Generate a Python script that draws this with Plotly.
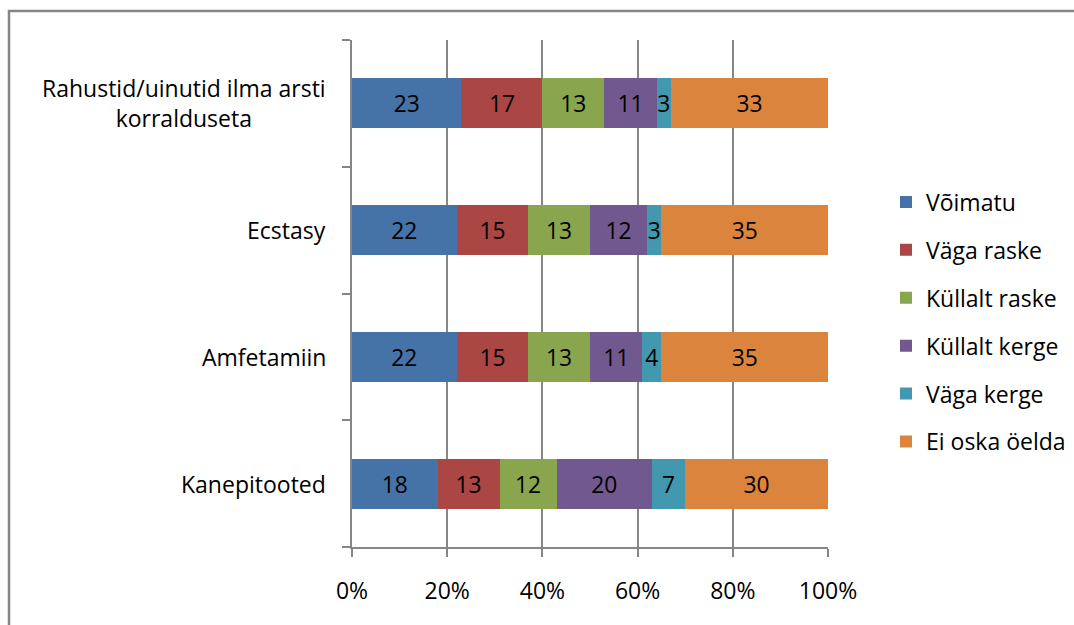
import plotly.graph_objects as go

categories = ["Kanepitooted", "Amfetamiin", "Ecstasy",
              "Rahustid/uinutid ilma arsti<br>korralduseta"]
series_names = ["Võimatu", "Väga raske", "Küllalt raske",
                "Küllalt kerge", "Väga kerge", "Ei oska öelda"]
voimatu = [18, 22, 22, 23]
vaga_raske = [13, 15, 15, 17]
kullalt_raske = [12, 13, 13, 13]
kullalt_kerge = [20, 11, 12, 11]
vaga_kerge = [7, 4, 3, 3]
ei_oska = [30, 35, 35, 33]
x_ticks = [0, 20, 40, 60, 80, 100]

series_values = [voimatu, vaga_raske, kullalt_raske, kullalt_kerge, vaga_kerge, ei_oska]
colors = ["#4572A7", "#AA4643", "#89A54E", "#71588F", "#4198AF", "#DB843D"]

FONT = "Open Sans"
FS = 23
GRAY = "#868686"
W, H = 1074, 625
L, R, T, B = 352, 246, 40, 78
pw, ph = W - L - R, H - T - B

fig = go.Figure()
ypos = list(range(len(categories)))
for name, vals, col in zip(series_names, series_values, colors):
    fig.add_trace(go.Bar(
        y=ypos, x=vals, name=name, orientation="h",
        marker=dict(color=col, line=dict(width=0)),
        width=0.395,
        text=[str(v) for v in vals], textposition="inside",
        insidetextanchor="middle", textangle=0,
        textfont=dict(family=FONT, size=FS, color="black"),
        legendgroup=name,
    ))

for i, c in enumerate(categories):
    fig.add_annotation(x=0, xref="paper", y=i, yref="y", text=c,
                       xanchor="right", xshift=-24, align="center",
                       showarrow=False,
                       font=dict(family=FONT, size=FS, color="black"))

# outer chart border
fig.add_shape(type="rect", xref="paper", yref="paper",
              x0=(9 - L) / pw, x1=(W + 10 - L) / pw,
              y0=(H - B - (H + 10)) / ph, y1=1 + (T - 11) / ph,
              line=dict(color=GRAY, width=2.5), fillcolor="rgba(0,0,0,0)", layer="below")

fig.update_layout(
    width=W, height=H,
    margin=dict(l=L, r=R, t=T, b=B, autoexpand=False),
    barmode="stack", barnorm="percent",
    plot_bgcolor="white", paper_bgcolor="white",
    font=dict(family=FONT, size=FS, color="black"),
    uniformtext=dict(minsize=FS - 2, mode="show"),
    showlegend=True,
    legend=dict(x=(886 - L) / pw, xanchor="left", y=(H - B - 322) / ph, yanchor="middle",
                traceorder="grouped", tracegroupgap=15,
                font=dict(family=FONT, size=FS, color="black"),
                bgcolor="rgba(0,0,0,0)", itemwidth=30),
    xaxis=dict(range=[0, 100], tickvals=x_ticks, ticktext=[f"{v}%" for v in x_ticks],
               showgrid=True, gridcolor=GRAY, gridwidth=1.5,
               showline=True, linecolor=GRAY, linewidth=1.5,
               ticks="outside", ticklen=8, tickcolor=GRAY, tickwidth=1.5,
               ticklabelstandoff=15, zeroline=False,
               tickfont=dict(family=FONT, size=FS, color="black")),
    yaxis=dict(range=[-0.5, len(categories) - 0.5],
               tickvals=[i - 0.5 for i in range(len(categories) + 1)],
               showticklabels=False, showgrid=False, zeroline=False,
               showline=True, linecolor=GRAY, linewidth=1.5,
               ticks="outside", ticklen=8, tickcolor=GRAY, tickwidth=1.5),
)

fig.write_html("out.html")
